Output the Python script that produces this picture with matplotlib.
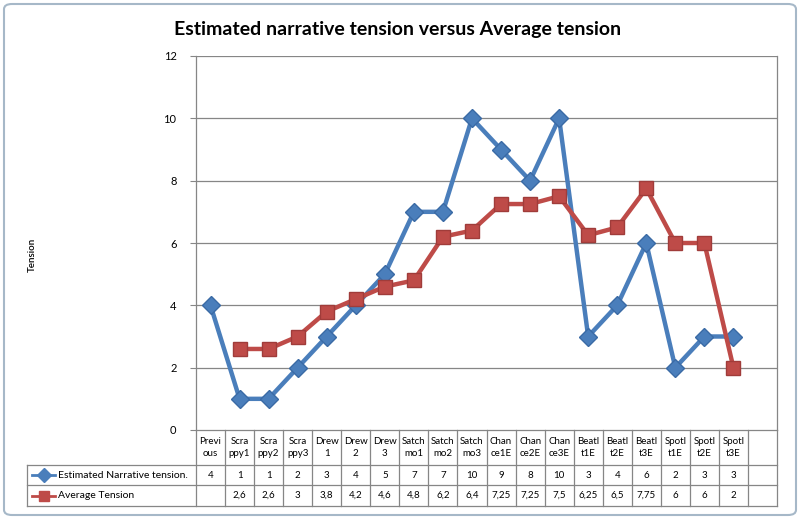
import matplotlib
matplotlib.use('Agg')
import matplotlib.pyplot as plt
from matplotlib.transforms import blended_transform_factory
from matplotlib.patches import FancyBboxPatch
import numpy as np

categories = ['Previ\nous', 'Scra\nppy1', 'Scra\nppy2', 'Scra\nppy3', 'Drew\n1', 'Drew\n2', 'Drew\n3',
              'Satch\nmo1', 'Satch\nmo2', 'Satch\nmo3', 'Chan\nce1E', 'Chan\nce2E', 'Chan\nce3E',
              'Beatl\nt1E', 'Beatl\nt2E', 'Beatl\nt3E', 'Spotl\nt1E', 'Spotl\nt2E', 'Spotl\nt3E', '']
estimated = [4, 1, 1, 2, 3, 4, 5, 7, 7, 10, 9, 8, 10, 3, 4, 6, 2, 3, 3]
average = [np.nan, 2.6, 2.6, 3, 3.8, 4.2, 4.6, 4.8, 6.2, 6.4, 7.25, 7.25, 7.5, 6.25, 6.5, 7.75, 6, 6, 2]
series_names = ['Estimated Narrative tension.', 'Average Tension']
y_ticks = [0, 2, 4, 6, 8, 10, 12]

blue = '#4a7ebb'
red = '#be4b48'
grid_c = '#868686'

plt.rcParams['font.family'] = ['Lato', 'DejaVu Sans']

fig = plt.figure(figsize=(8, 5.19), dpi=100)
fig.patch.set_facecolor('white')
ax = fig.add_axes([196 / 800, 1 - 430 / 519, 581 / 800, 374 / 519])

x = np.arange(len(estimated))
ax.plot(x, estimated, color=blue, lw=3.2, marker='D', ms=9.5, mfc=blue, mec='#3a6aa5', zorder=3)
ax.plot(x, average, color=red, lw=3.2, marker='s', ms=9.5, mfc=red, mec='#a03c3a', zorder=3)

ax.set_xlim(-0.5, len(categories) - 0.5)
ax.set_ylim(0, 12)
ax.set_yticks(y_ticks)
ax.set_yticklabels([str(t) for t in y_ticks], fontsize=8)
ax.set_xticks([])
ax.tick_params(axis='y', length=4, color=grid_c, pad=10)
for t in y_ticks[1:]:
    ax.axhline(t, color=grid_c, lw=0.9, zorder=1)
for s in ax.spines.values():
    s.set_color(grid_c)
    s.set_linewidth(0.9)
ax.spines['top'].set_visible(False)

fig.text(398 / 800, 1 - 30 / 519, 'Estimated narrative tension versus Average tension',
         ha='center', va='center', fontsize=14, fontweight='bold')
fig.text(32 / 800, 1 - 255 / 519, 'Tension', rotation=90, ha='center', va='center',
         fontsize=7, fontweight='semibold')

# data table under the plot
tr = blended_transform_factory(ax.transData, fig.transFigure)
ftr = fig.transFigure
n = len(categories)
y_top = 1 - 430 / 519
y_h = 1 - 465 / 519
y_r1 = 1 - 485 / 519
y_bot = 1 - 506 / 519
lx = 27 / 800

for i in range(n + 1):
    ax.plot([i - 0.5, i - 0.5], [y_top, y_bot], transform=tr, color=grid_c, lw=0.9, clip_on=False)
for yy in [y_h, y_r1, y_bot]:
    ax.plot([lx, 777 / 800], [yy, yy], transform=ftr, color=grid_c, lw=0.9, clip_on=False)
ax.plot([lx, lx], [y_h, y_bot], transform=ftr, color=grid_c, lw=0.9, clip_on=False)

for i, c in enumerate(categories):
    ax.text(i, (y_top + y_h) / 2, c, transform=tr, ha='center', va='center', fontsize=7, linespacing=1.3)

def fmt(v):
    if np.isnan(v):
        return ''
    s = ('%g' % v).replace('.', ',')
    return s

for i, v in enumerate(estimated):
    ax.text(i, (y_h + y_r1) / 2, fmt(v), transform=tr, ha='center', va='center', fontsize=7)
for i, v in enumerate(average):
    ax.text(i, (y_r1 + y_bot) / 2, fmt(v), transform=tr, ha='center', va='center', fontsize=7)

for name, col, mk, yy in [(series_names[0], blue, 'D', (y_h + y_r1) / 2),
                          (series_names[1], red, 's', (y_r1 + y_bot) / 2)]:
    ax.plot([32 / 800, 55 / 800], [yy, yy], transform=ftr, color=col, lw=2, clip_on=False)
    ax.plot([43.5 / 800], [yy], transform=ftr, color=col, marker=mk, ms=7, clip_on=False)
    ax.text(58 / 800, yy, name, transform=ftr, ha='left', va='center', fontsize=7.5)

border = FancyBboxPatch((4 / 800, 4 / 519), 792 / 800, 511 / 519, boxstyle='round,pad=0,rounding_size=0.01',
                        transform=ftr, fill=False, edgecolor='#a6b8c8', lw=1.5)
fig.patches.append(border)

fig.savefig('out.png', dpi=100)
